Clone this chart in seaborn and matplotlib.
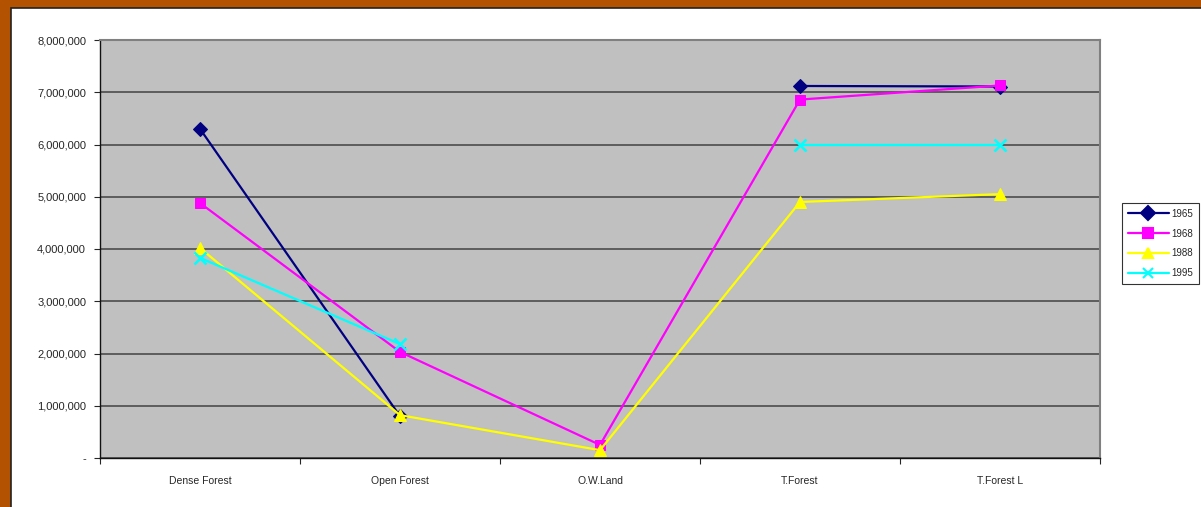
import numpy as np
import pandas as pd
import matplotlib
matplotlib.use("Agg")
import matplotlib.pyplot as plt
import matplotlib.patches as mpatches
from matplotlib.ticker import FuncFormatter, FixedLocator
import seaborn as sns

categories = ["Dense Forest", "Open Forest", "O.W.Land", "T.Forest", "T.Forest L"]
years = ["1965", "1968", "1988", "1995"]
v1965 = [6300000, 800000, np.nan, 7120000, 7110000]
v1968 = [4880000, 2030000, 250000, 6860000, 7130000]
v1988 = [4020000, 820000, 150000, 4900000, 5050000]
v1995 = [3830000, 2180000, np.nan, 6000000, 6000000]

colors = {"1965": "#000080", "1968": "#FF00FF", "1988": "#FFFF00", "1995": "#00FFFF"}
markers = {"1965": "D", "1968": "s", "1988": "^", "1995": "X"}

# long table, with a segment id so missing points leave a gap
rows = []
for yr, vals in zip(years, [v1965, v1968, v1988, v1995]):
    seg = 0
    for i, v in enumerate(vals):
        if np.isnan(v):
            seg += 1
            continue
        rows.append({"x": i, "value": v, "year": yr, "seg": yr + "_" + str(seg)})
df = pd.DataFrame(rows)

sns.set_style("white")
plt.rcParams["font.family"] = ["Liberation Sans", "DejaVu Sans"]

fig = plt.figure(figsize=(12.01, 5.07), dpi=100, facecolor="#B35200")
panel = mpatches.Rectangle((11 / 1201, -0.01), 1.0, 1 - 8 / 507 + 0.01,
                           transform=fig.transFigure, facecolor="white",
                           edgecolor="#222222", linewidth=1.2, zorder=-5)
fig.patches.append(panel)
ax = fig.add_axes([100 / 1201, 1 - 458 / 507, 1000 / 1201, 418 / 507])
ax.set_zorder(1)
ax.set_facecolor("#C0C0C0")

sns.lineplot(data=df, x="x", y="value", hue="year", style="year", units="seg",
             estimator=None, palette=colors, markers=markers, dashes=False,
             linewidth=1.6, markersize=9, ax=ax, legend=False)
for ln in ax.lines:
    ln.set_markeredgecolor(ln.get_color())
    ln.set_markerfacecolor(ln.get_color())
    if ln.get_marker() == "X":
        ln.set_marker("x")
        ln.set_markeredgewidth(1.8)
    if ln.get_marker() == "D":
        ln.set_markersize(7)
    if ln.get_marker() == "s":
        ln.set_markersize(7.5)

ax.set_xlim(-0.5, 4.5)
ax.set_ylim(0, 8000000)
ax.set_yticks(np.arange(0, 8000001, 1000000))
ax.yaxis.set_major_formatter(FuncFormatter(lambda v, p: "-" if v == 0 else f"{int(v):,}"))
ax.set_xticks(range(5))
ax.set_xticklabels(categories)
ax.xaxis.set_minor_locator(FixedLocator(np.arange(-0.5, 4.6, 1)))
ax.tick_params(axis="x", which="major", length=0, pad=13, labelsize=7.5)
ax.tick_params(axis="x", which="minor", length=4, width=0.8, direction="out", bottom=True)
ax.tick_params(axis="y", length=4, width=0.8, direction="out", left=True, labelsize=8, pad=6)
ax.set_xlabel("")
ax.set_ylabel("")
ax.grid(axis="y", color="#555555", linewidth=1.3)
ax.set_axisbelow(True)
for s in ["top", "right"]:
    ax.spines[s].set_color("#808080")
    ax.spines[s].set_linewidth(1.5)
for s in ["left", "bottom"]:
    ax.spines[s].set_color("#111111")
    ax.spines[s].set_linewidth(1.0)

handles = [plt.Line2D([], [], color=colors[y], marker=markers[y].replace("X", "x"), markersize=7,
                      markeredgecolor=colors[y], markeredgewidth=1.5, linewidth=1.6) for y in years]
leg = fig.legend(handles, years, loc="upper left", bbox_to_anchor=(1122 / 1201, 1 - 203 / 507),
                 fontsize=7, frameon=True, fancybox=False, edgecolor="black",
                 handlelength=4.2, labelspacing=1.0, borderpad=0.6, handletextpad=0.3,
                 borderaxespad=0)
leg.get_frame().set_linewidth(0.8)

fig.savefig("out.png", dpi=100, facecolor=fig.get_facecolor())
